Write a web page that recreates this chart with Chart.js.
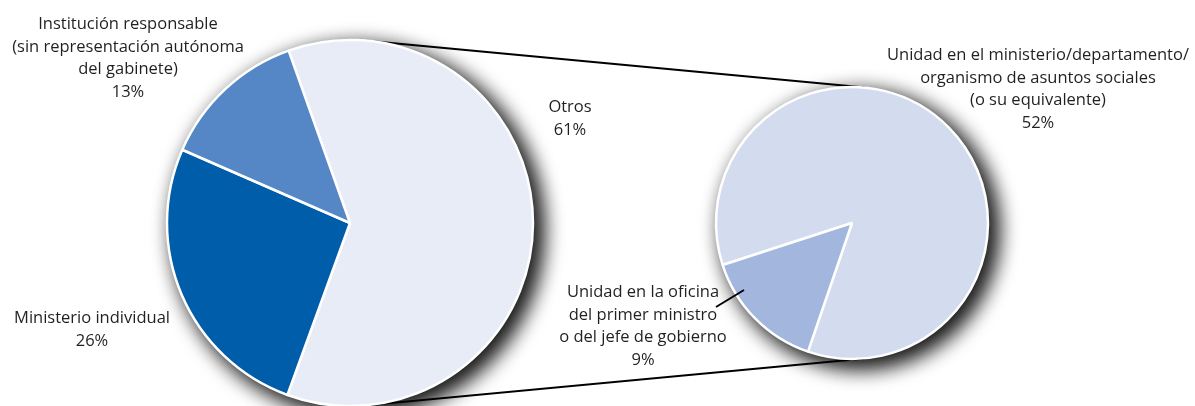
<!DOCTYPE html>
<html>
<head>
<meta charset="utf-8">
<script src="https://cdn.jsdelivr.net/npm/chart.js@4"></script>
<style>
  html, body { margin: 0; padding: 0; background: #fff; }
  #stage { position: relative; width: 1195px; height: 406px; overflow: hidden; }
  canvas { position: absolute; }
  .lbl {
    position: absolute;
    font-family: "Open Sans", Lato, sans-serif;
    font-size: 16.5px;
    line-height: 22.5px;
    color: #231f20;
    text-align: center;
    white-space: nowrap;
    transform: translateX(-50%);
  }
</style>
</head>
<body>
<div id="stage">
  <canvas id="links" width="1195" height="406" style="left:0;top:0"></canvas>
  <canvas id="mainPie" width="460" height="460" style="left:120px;top:-7px"></canvas>
  <canvas id="subPie" width="360" height="360" style="left:672px;top:43px"></canvas>

  <div class="lbl" style="left:128px;top:12px">Institución responsable<br>(sin representación autónoma<br>del gabinete)<br>13%</div>
  <div class="lbl" style="left:92px;top:306px">Ministerio individual<br>26%</div>
  <div class="lbl" style="left:570px;top:95px">Otros<br>61%</div>
  <div class="lbl" style="left:643px;top:280px">Unidad en la oficina<br>del primer ministro<br>o del jefe de gobierno<br>9%</div>
  <div class="lbl" style="left:1038px;top:43px">Unidad en el ministerio/departamento/<br>organismo de asuntos sociales<br>(o su equivalente)<br>52%</div>
</div>

<script>
// main breakdown (percent)
const mainLabels = ["Otros", "Ministerio individual", "Institución responsable"];
const mainValues = [61, 26, 13];
const mainColors = ["#e8ecf7", "#005daa", "#5587c6"];

// breakdown of "Otros"
const subLabels = ["Unidad en el ministerio/departamento/organismo de asuntos sociales", "Unidad en la oficina del primer ministro o del jefe de gobierno"];
const subValues = [52, 9];
const subColors = ["#d3dcef", "#a3b6dd"];

// canvas offsets inside the stage
const MAIN_POS = { left: 120, top: -7 };
const SUB_POS = { left: 672, top: 43 };

// drop shadow under the whole pie (drawn twice to darken it)
const pieShadow = {
    id: "pieShadow",
    beforeDatasetsDraw(chart) {
        const arc = chart.getDatasetMeta(0).data[0];
        if (!arc) return;
        const ctx = chart.ctx;
        ctx.save();
        ctx.shadowColor = "rgba(0,0,0,0.75)";
        ctx.shadowBlur = 22;
        ctx.shadowOffsetX = 8;
        ctx.shadowOffsetY = 7;
        ctx.fillStyle = "#ffffff";
        for (let i = 0; i < 2; i++) {
            ctx.beginPath();
            ctx.arc(arc.x, arc.y, arc.outerRadius, 0, Math.PI * 2);
            ctx.fill();
        }
        ctx.restore();
    }
};

function makePie(id, labels, values, colors, radius, rotation) {
    return new Chart(document.getElementById(id), {
        type: "pie",
        data: {
            labels: labels,
            datasets: [{
                data: values,
                backgroundColor: colors,
                borderColor: "#ffffff",
                borderWidth: 2.5
            }]
        },
        options: {
            responsive: false,
            animation: false,
            radius: radius,
            rotation: rotation,
            layout: { padding: 0 },
            plugins: {
                legend: { display: false },
                tooltip: { enabled: false }
            }
        },
        plugins: [pieShadow]
    });
}

const mainChart = makePie("mainPie", mainLabels, mainValues, mainColors, 183, -19.6);
const subChart = makePie("subPie", subLabels, subValues, subColors, 136, -108);

// connector lines between the two pies (outer tangents)
function drawLinks() {
    const ctx = document.getElementById("links").getContext("2d");
    const a = mainChart.getDatasetMeta(0).data[0];
    const b = subChart.getDatasetMeta(0).data[0];
    const x1 = a.x + MAIN_POS.left, y1 = a.y + MAIN_POS.top, r1 = a.outerRadius;
    const x2 = b.x + SUB_POS.left, y2 = b.y + SUB_POS.top, r2 = b.outerRadius;
    const d = Math.hypot(x2 - x1, y2 - y1);
    const alpha = Math.asin((r1 - r2) / d);

    ctx.strokeStyle = "#000";
    ctx.lineWidth = 2;
    [-1, 1].forEach(s => {
        const ux = Math.sin(alpha), uy = s * Math.cos(alpha);
        ctx.beginPath();
        ctx.moveTo(x1 + r1 * ux, y1 + r1 * uy);
        ctx.lineTo(x2 + r2 * ux, y2 + r2 * uy);
        ctx.stroke();
    });
}
drawLinks();

// leader from the 9% label into its slice, drawn over the pie
const subCtx = subChart.ctx;
subCtx.save();
subCtx.strokeStyle = "#000";
subCtx.lineWidth = 2;
subCtx.beginPath();
subCtx.moveTo(716 - SUB_POS.left, 307 - SUB_POS.top);
subCtx.lineTo(744 - SUB_POS.left, 290 - SUB_POS.top);
subCtx.stroke();
subCtx.restore();
</script>
</body>
</html>
